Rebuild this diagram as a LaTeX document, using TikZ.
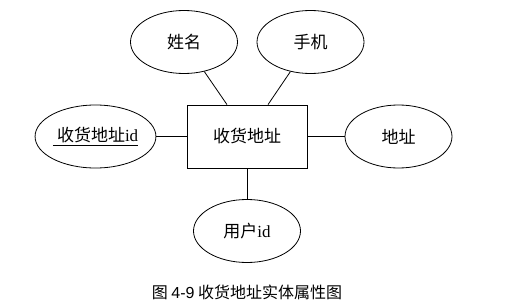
\documentclass[tikz,border=0pt]{standalone}
\usepackage{fontspec}
\setmainfont{Liberation Serif}
\setsansfont{Liberation Sans}
\newfontfamily\cjk{Noto Sans CJK SC}
\usetikzlibrary{shapes.geometric}

\begin{document}
\begin{tikzpicture}[x=1pt,y=-1pt,line width=0.8pt,
  attr/.style={draw,ellipse,minimum width=107pt,minimum height=63pt,inner sep=0pt,
    font=\fontsize{17}{20}\selectfont},
  entity/.style={draw,rectangle,minimum width=120pt,minimum height=63pt,inner sep=0pt,
    font=\fontsize{17}{20}\selectfont}]
  \useasboundingbox (0,0) rectangle (523,308);
  % entidad
  \node[entity] (ent) at (247,136.5) {\cjk 收货地址};
  % atributos
  \node[attr] (xm) at (184,42) {\cjk 姓名};
  \node[attr] (sj) at (310.5,42) {\cjk 手机};
  \node[attr] (xid) at (95.5,136.5) {\underline{\ {\cjk 收货地址}id}};
  \node[attr] (dz) at (398.5,136.5) {\cjk 地址};
  \node[attr] (yh) at (247,231) {{\cjk 用户}id};
  % lineas
  \draw (xm) -- ([xshift=-20pt]ent.north);
  \draw (sj) -- ([xshift=21pt]ent.north);
  \draw (xid) -- (ent);
  \draw (ent) -- (dz);
  \draw (ent) -- (yh);
  % pie
  \node (cap) at (247,292) {\fontsize{16}{18}\selectfont\cjk 图 {\sffamily 4-9} 收货地址实体属性图};
\end{tikzpicture}
\end{document}
